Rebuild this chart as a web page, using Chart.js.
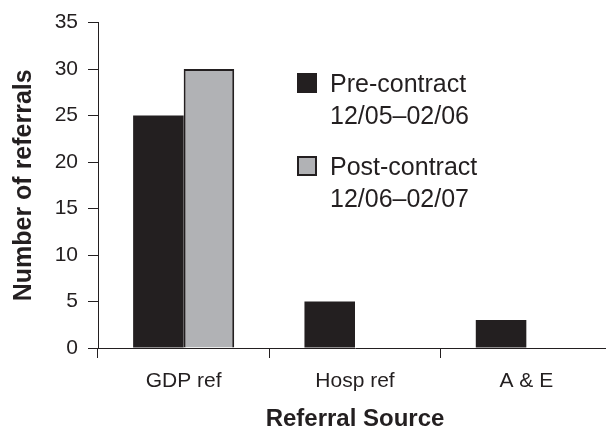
<!DOCTYPE html>
<html>
<head>
<meta charset="utf-8">
<script src="https://cdn.jsdelivr.net/npm/chart.js@4/dist/chart.umd.min.js"></script>
<style>
  html, body { margin: 0; padding: 0; background: #fff; overflow: hidden; }
  #wrap { width: 614px; height: 430px; }
</style>
</head>
<body>
<div id="wrap"><canvas id="refChart" width="614" height="430"></canvas></div>
<script>
// referral counts by source, before and after the contract
const categories = ['GDP ref', 'Hosp ref', 'A & E'];
const preContract = [25, 5, 3];
const postContract = [30, 0, 0];
const legendLines = [
    ['Pre-contract', '12/05–02/06'],
    ['Post-contract', '12/06–02/07']
];
const yTicks = [0, 5, 10, 15, 20, 25, 30, 35];

const FONT = '"Liberation Sans", Arial, Helvetica, sans-serif';
const INK = '#231f20';

// legend sits inside the plot, drawn by hand so labels can wrap
const legendBox = {
    id: 'legendBox',
    afterDraw(chart) {
        const ctx = chart.ctx;
        ctx.save();
        ctx.font = '25px ' + FONT;
        ctx.textBaseline = 'alphabetic';
        chart.data.datasets.forEach((ds, i) => {
            const top = 73 + i * 83;
            ctx.fillStyle = ds.backgroundColor;
            ctx.fillRect(297, top, 20, 20);
            if (ds.borderWidth) {
                ctx.lineWidth = ds.borderWidth;
                ctx.strokeStyle = ds.borderColor;
                ctx.strokeRect(298, top + 1, 18, 18);
            }
            ctx.fillStyle = INK;
            legendLines[i].forEach((line, j) => ctx.fillText(line, 330, top + 19 + j * 32));
        });
        ctx.restore();
    }
};

document.addEventListener('DOMContentLoaded', function() {
    const ctx = document.getElementById('refChart').getContext('2d');
    new Chart(ctx, {
        type: 'bar',
        data: {
            labels: categories,
            datasets: [{
                label: legendLines[0].join(' '),
                data: preContract,
                backgroundColor: INK,
                borderWidth: 0
            }, {
                label: legendLines[1].join(' '),
                data: postContract,
                backgroundColor: '#b1b2b5',
                borderColor: INK,
                borderWidth: 2
            }]
        },
        options: {
            responsive: false,
            animation: false,
            devicePixelRatio: 1,
            layout: { padding: { top: 21, right: 2, bottom: 0, left: 0 } },
            datasets: {
                bar: { categoryPercentage: 0.59, barPercentage: 1.0 }
            },
            plugins: {
                legend: { display: false },
                tooltip: { enabled: false }
            },
            scales: {
                x: {
                    afterFit: s => { s.height = 82; },
                    grid: { drawOnChartArea: false, tickLength: 10, color: INK, lineWidth: 1 },
                    border: { color: INK, width: 1 },
                    ticks: { color: INK, padding: 11, font: { family: FONT, size: 21 } },
                    title: {
                        display: true,
                        text: 'Referral Source',
                        color: INK,
                        font: { family: FONT, size: 24, weight: 'bold' },
                        padding: { top: 0, bottom: -4 }
                    }
                },
                y: {
                    min: 0,
                    max: 35,
                    afterFit: s => { s.width = 98; },
                    afterBuildTicks: s => { s.ticks = yTicks.map(v => ({ value: v })); },
                    grid: { drawOnChartArea: false, tickLength: 10, color: INK, lineWidth: 1 },
                    border: { color: INK, width: 1 },
                    ticks: { color: INK, padding: 10, font: { family: FONT, size: 21 } },
                    title: {
                        display: true,
                        text: 'Number of referrals',
                        color: INK,
                        font: { family: FONT, size: 25, weight: 'bold' },
                        padding: { top: 9, bottom: 0 }
                    }
                }
            }
        },
        plugins: [legendBox]
    });
});
</script>
</body>
</html>
